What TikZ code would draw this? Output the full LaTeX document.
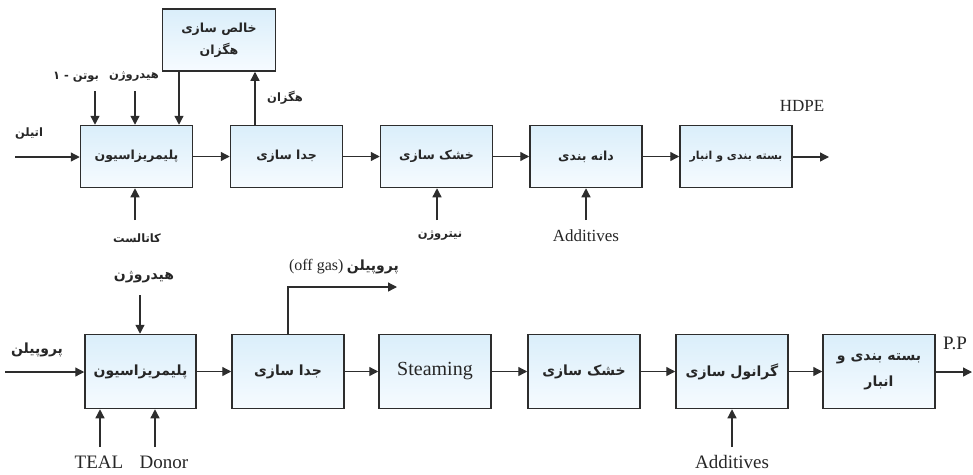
\documentclass[tikz,border=0pt]{standalone}
\usepackage{fontspec}
\setmainfont{Liberation Serif}
\newfontfamily\farsifont[Script=Arabic]{DejaVu Sans}
\TeXXeTstate=1
\usetikzlibrary{arrows.meta}
\newcommand{\fatxt}[1]{{\farsifont\bfseries\beginR #1\endR}}
\definecolor{edge}{RGB}{45,45,45}
\definecolor{topblue}{RGB}{218,238,250}
\definecolor{botblue}{RGB}{246,251,255}
\tikzset{
  procbox/.style={draw=edge, line width=1.5pt, top color=topblue, bottom color=botblue,
    minimum width=112pt, minimum height=62pt, inner sep=0pt, align=center, text=black!85},
  bigbox/.style={procbox, minimum height=74pt},
  arr/.style={draw=edge, line width=1.3pt, -{Triangle[length=9pt,width=9pt]}},
  lbl/.style={inner sep=0pt, text=black!85},
}
\begin{document}
\begin{tikzpicture}[x=1pt,y=-1pt]
\useasboundingbox (0,0) rectangle (973,474);
% ---------- top row ----------
\begin{scope}[every node/.append style={font=\fontsize{12.5}{20}\selectfont}]
\node[procbox] (p1) at (136.5,156.5) {\fatxt{پلیمریزاسیون}};
\node[procbox] (s1) at (286.5,156.5) {\fatxt{جدا سازی}};
\node[procbox] (d1) at (436.5,156.5) {\fatxt{خشک سازی}};
\node[procbox] (g1) at (586,156.5) {\fatxt{دانه بندی}};
\node[procbox, font=\fontsize{11}{18}\selectfont] (k1) at (736,156.5) {\fatxt{بسته بندی و انبار}};
\node[procbox, minimum width=113pt] (h) at (219,40) {\fatxt{خالص سازی}\\[2pt]\fatxt{هگزان}};
\end{scope}
\coordinate (eth) at (15,157);
\coordinate (bt) at (95,91);
\coordinate (hy) at (135,91);
\coordinate (hx) at (179,0);
\coordinate (sx) at (255,0);
\coordinate (cat) at (135,220);
\coordinate (nit) at (437,220);
\coordinate (add1) at (586,220);
\coordinate (out1) at (829,157);
\draw[arr] (eth) -- (eth -| p1.west);
\draw[arr] (bt) -- (bt |- p1.north);
\draw[arr] (hy) -- (hy |- p1.north);
\draw[arr] (h.south -| hx) -- (p1.north -| hx);
\draw[arr] (s1.north -| sx) -- (h.south -| sx);
\draw[arr] (cat) -- (cat |- p1.south);
\draw[arr] (nit) -- (nit |- d1.south);
\draw[arr] (add1) -- (add1 |- g1.south);
\draw[arr] (p1) -- (s1);
\draw[arr] (s1) -- (d1);
\draw[arr] (d1) -- (g1);
\draw[arr] (g1) -- (k1);
\draw[arr] (k1.east |- out1) -- (out1);
\begin{scope}[every node/.append style={lbl, font=\fontsize{11.5}{14}\selectfont}]
\node (l-bt) at (76,77) {\fatxt{بوتن - ۱}};
\node (l-hy) at (134,77) {\fatxt{هیدروژن}};
\node (l-eth) at (29,134) {\fatxt{اتیلن}};
\node (l-cat) at (137,238) {\fatxt{کاتالست}};
\node (l-hex) at (285,98) {\fatxt{هگزان}};
\node (l-nit) at (440,236) {\fatxt{نیتروژن}};
\end{scope}
\node[lbl, font=\fontsize{17}{19}\selectfont] (l-add1) at (586,236) {Additives};
\node[lbl, font=\fontsize{17}{19}\selectfont] (l-hdpe) at (802,106) {HDPE};
% ---------- bottom row ----------
\begin{scope}[every node/.append style={font=\fontsize{14}{22}\selectfont}]
\node[bigbox, minimum width=111pt] (p2) at (140.5,371.5) {\fatxt{پلیمریزاسیون}};
\node[bigbox] (s2) at (288,371.5) {\fatxt{جدا سازی}};
\node[bigbox] (st) at (435,371.5) {\fontsize{20}{22}\selectfont Steaming};
\node[bigbox] (d2) at (584,371.5) {\fatxt{خشک سازی}};
\node[bigbox] (gr) at (732,371.5) {\fatxt{گرانول سازی}};
\node[bigbox] (k2) at (879,371.5) {\fatxt{بسته بندی و}\\[4pt]\fatxt{انبار}};
\end{scope}
\coordinate (pro) at (5,372);
\coordinate (hy2) at (140,295);
\coordinate (teal) at (100,447);
\coordinate (don) at (155,447);
\coordinate (og1) at (288,287);
\coordinate (og2) at (397,287);
\coordinate (add2) at (732,447);
\coordinate (out2) at (972,372);
\draw[arr] (pro) -- (pro -| p2.west);
\draw[arr] (hy2) -- (hy2 |- p2.north);
\draw[arr] (teal) -- (teal |- p2.south);
\draw[arr] (don) -- (don |- p2.south);
\draw[arr] (s2.north -| og1) -- (og1) -- (og2);
\draw[arr] (add2) -- (add2 |- gr.south);
\draw[arr] (p2) -- (s2);
\draw[arr] (s2) -- (st);
\draw[arr] (st) -- (d2);
\draw[arr] (d2) -- (gr);
\draw[arr] (gr) -- (k2);
\draw[arr] (k2.east |- out2) -- (out2);
\begin{scope}[every node/.append style={lbl, font=\fontsize{14}{16}\selectfont}]
\node (l-pro) at (37,350) {\fatxt{پروپیلن}};
\node (l-hy2) at (144,277) {\fatxt{هیدروژن}};
\node (l-og) at (344,267) {{\fontsize{16}{18}\selectfont(off gas)} \fatxt{پروپیلن}};
\end{scope}
\begin{scope}[every node/.append style={lbl, font=\fontsize{19}{21}\selectfont}]
\node (l-teal) at (99,462) {TEAL};
\node (l-don) at (164,462) {Donor};
\node (l-add2) at (732,462) {Additives};
\node (l-pp) at (955,343) {P.P};
\end{scope}
\end{tikzpicture}
\end{document}
